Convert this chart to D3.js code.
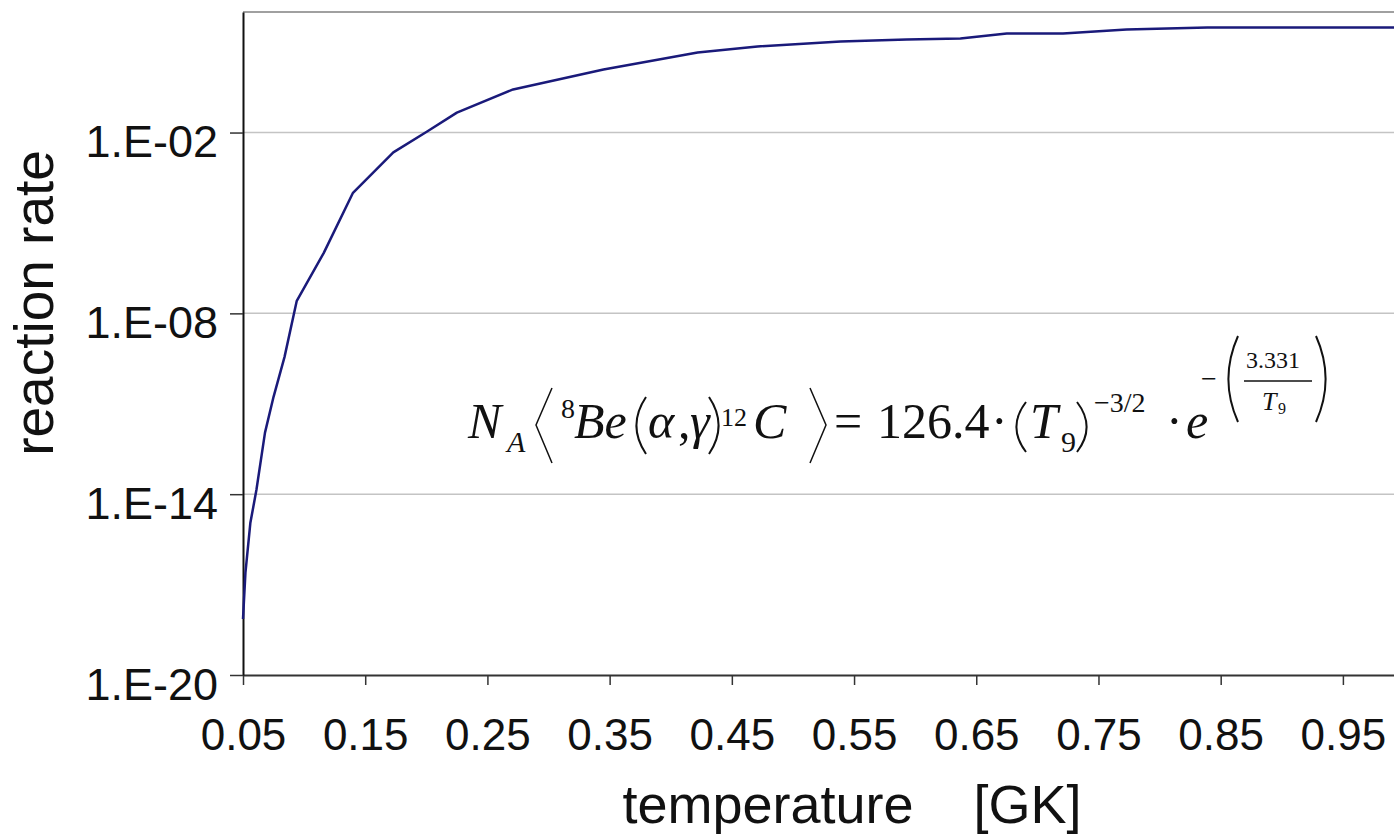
<!DOCTYPE html>
<html>
<head>
<meta charset="utf-8">
<script src="https://cdn.jsdelivr.net/npm/d3@7"></script>
<style>
  body { margin: 0; background: #fff; overflow: hidden; }
  svg { display: block; }
</style>
</head>
<body>
<div id="viz"></div>
<script>
const width = 1394;
const height = 835;
const margin = {top: 12, left: 243, bottom: 160};

// temperature [GK] and reaction rate
const temps = [0.050, 0.052, 0.056, 0.061, 0.068, 0.075, 0.084, 0.094, 0.116, 0.140,
               0.173, 0.201, 0.225, 0.271, 0.345, 0.422, 0.471, 0.539, 0.593, 0.637,
               0.675, 0.721, 0.773, 0.839, 0.964, 1.000];
const rates = [7.2e-19, 2.5e-17, 1.1e-15, 1.4e-14, 1.1e-12, 1.7e-11, 3.6e-10, 2.6e-8, 1.0e-6, 1.0e-4,
               2.2e-3, 1.1e-2, 4.6e-2, 0.27, 1.24, 4.5, 7.2, 10.5, 12.3, 13.2,
               19.5, 19.5, 26.4, 30.8, 30.8, 30.8];

const xTicks = [0.05, 0.15, 0.25, 0.35, 0.45, 0.55, 0.65, 0.75, 0.85, 0.95];
const yTicks = [1e-20, 1e-14, 1e-8, 1e-2];
const yTickLabels = ['1.E-20', '1.E-14', '1.E-08', '1.E-02'];

const data = temps.map((t, i) => ({t: t, r: rates[i]}));

const svg = d3.select('#viz')
  .append('svg')
    .attr('width', width)
    .attr('height', height);

const xScale = d3.scaleLinear()
  .domain([0.05, 1.0])
  .range([margin.left, 1404]);
const yScale = d3.scaleLog()
  .domain([1e-20, 1e2])
  .range([height - margin.bottom, margin.top]);

// gridlines
svg.append('g')
  .selectAll('line')
  .data(yTicks.slice(1))
  .join('line')
    .attr('x1', margin.left)
    .attr('x2', 1404)
    .attr('y1', d => yScale(d))
    .attr('y2', d => yScale(d))
    .attr('stroke', '#c4c4c4')
    .attr('stroke-width', 1.5);

// top border of plot area
svg.append('line')
  .attr('x1', margin.left)
  .attr('x2', 1404)
  .attr('y1', yScale(1e2))
  .attr('y2', yScale(1e2))
  .attr('stroke', '#a0a0a0')
  .attr('stroke-width', 2);

// x axis
const xAxis = d3.axisBottom(xScale)
  .tickValues(xTicks)
  .tickFormat(d3.format('.2f'))
  .tickSizeInner(10)
  .tickSizeOuter(0)
  .tickPadding(65);
const xAxisGroup = svg.append('g')
  .attr('transform', `translate(0, ${yScale(1e-20)})`)
  .call(xAxis);
xAxisGroup.select('.domain').attr('stroke', '#333').attr('stroke-width', 2);
xAxisGroup.selectAll('.tick line').attr('stroke', '#333').attr('stroke-width', 1.5);
xAxisGroup.selectAll('.tick text')
  .attr('dy', 0)
  .attr('fill', '#111')
  .style('font-family', '"Liberation Sans", Arial, sans-serif')
  .style('font-size', '44px');

// y axis
const yAxis = d3.axisLeft(yScale)
  .tickValues(yTicks)
  .tickFormat((d, i) => yTickLabels[i])
  .tickSizeInner(13)
  .tickSizeOuter(0)
  .tickPadding(12);
const yAxisGroup = svg.append('g')
  .attr('transform', `translate(${margin.left}, 0)`)
  .call(yAxis);
yAxisGroup.select('.domain').attr('stroke', '#111').attr('stroke-width', 2);
yAxisGroup.selectAll('.tick line').attr('stroke', '#333').attr('stroke-width', 1.5);
yAxisGroup.selectAll('.tick text')
  .attr('dy', 24)
  .attr('fill', '#111')
  .style('font-family', '"Liberation Sans", Arial, sans-serif')
  .style('font-size', '45px');

// axis titles
svg.append('text')
  .attr('transform', 'translate(53, 303) rotate(-90)')
  .attr('text-anchor', 'middle')
  .attr('fill', '#111')
  .style('font-family', '"Liberation Sans", Arial, sans-serif')
  .style('font-size', '55px')
  .text('reaction rate');

svg.append('text')
  .attr('x', 852)
  .attr('y', 823)
  .attr('text-anchor', 'middle')
  .attr('fill', '#111')
  .attr('xml:space', 'preserve')
  .style('white-space', 'pre')
  .style('font-family', '"Liberation Sans", Arial, sans-serif')
  .style('font-size', '54px')
  .text('temperature    [GK]');

// the curve
const line = d3.line()
  .x(d => xScale(d.t))
  .y(d => yScale(d.r));
svg.append('path')
  .datum(data)
  .attr('d', line)
  .attr('fill', 'none')
  .attr('stroke', '#1a1a7a')
  .attr('stroke-width', 2.5)
  .attr('stroke-linejoin', 'round');

// formula annotation
const serif = '"Liberation Serif", "Times New Roman", serif';
const formula = svg.append('g').attr('fill', '#111').style('font-family', serif);
const piece = (x, y, size, txt, italic) => formula.append('text')
  .attr('x', x).attr('y', y)
  .style('font-size', size + 'px')
  .style('font-style', italic ? 'italic' : 'normal')
  .text(txt);
// thin drawn delimiters: angle brackets and tall parentheses
const stroke = (d, w) => formula.append('path')
  .attr('d', d)
  .attr('fill', 'none')
  .attr('stroke', '#111')
  .attr('stroke-width', w);
const lparen = (x, y0, y1, w) => stroke(`M${x + w},${y0} Q${x - w * 0.6},${(y0 + y1) / 2} ${x + w},${y1}`, 2);
const rparen = (x, y0, y1, w) => stroke(`M${x},${y0} Q${x + w * 1.6},${(y0 + y1) / 2} ${x},${y1}`, 2);

piece(468, 438, 50, 'N', true);
piece(507, 452, 30, 'A', true);
stroke('M552,388 L536,425 L552,463', 1.5);
piece(561, 418, 28, '8', false);
piece(574, 438, 50, 'Be', true);
lparen(634, 397, 454, 12);
piece(648, 438, 50, '\u03B1', true);
piece(678, 438, 50, ',', false);
piece(690, 438, 50, '\u03B3', true);
rparen(709, 397, 454, 12);
piece(721, 426, 26, '12', false);
piece(753, 438, 50, 'C', true);
stroke('M810,388 L826,425 L810,463', 1.5);
piece(834, 438, 50, '=', false);
piece(877, 438, 50, '126.4', false);
piece(991, 438, 50, '\u00B7', false);
lparen(1014, 402, 452, 12);
piece(1030, 438, 50, 'T', true);
piece(1061, 452, 30, '9', false);
rparen(1077, 402, 452, 12);
piece(1094, 412, 28, '\u22123/2', false);
piece(1166, 438, 50, '\u00B7', false);
piece(1186, 438, 50, 'e', true);
piece(1201, 388, 28, '\u2212', false);
lparen(1226, 336, 422, 12);
piece(1246, 368, 24, '3.331', false);
formula.append('line')
  .attr('x1', 1244).attr('x2', 1312)
  .attr('y1', 381).attr('y2', 381)
  .attr('stroke', '#111').attr('stroke-width', 1.5);
piece(1262, 410, 26, 'T', true);
piece(1278, 414, 16, '9', false);
rparen(1316, 336, 422, 12);
</script>
</body>
</html>
